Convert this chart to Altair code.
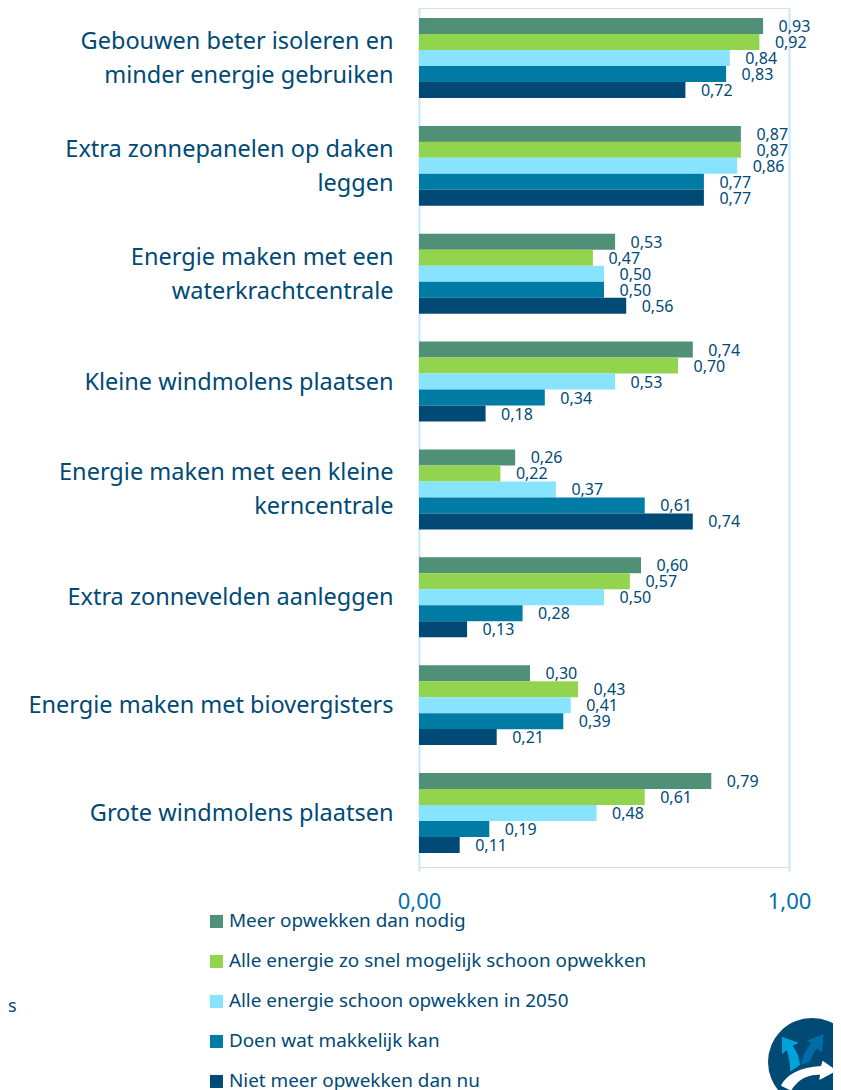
import altair as alt
import pandas as pd

categories = [
    "Gebouwen beter isoleren en|minder energie gebruiken",
    "Extra zonnepanelen op daken|leggen",
    "Energie maken met een|waterkrachtcentrale",
    "Kleine windmolens plaatsen",
    "Energie maken met een kleine|kerncentrale",
    "Extra zonnevelden aanleggen",
    "Energie maken met biovergisters",
    "Grote windmolens plaatsen",
]
series = [
    "Meer opwekken dan nodig",
    "Alle energie zo snel mogelijk schoon opwekken",
    "Alle energie schoon opwekken in 2050",
    "Doen wat makkelijk kan",
    "Niet meer opwekken dan nu",
]
colors = ["#4f9076", "#93d44f", "#88e3ff", "#007ba4", "#004a75"]
meer = [0.93, 0.87, 0.53, 0.74, 0.26, 0.60, 0.30, 0.79]
snel = [0.92, 0.87, 0.47, 0.70, 0.22, 0.57, 0.43, 0.61]
schoon = [0.84, 0.86, 0.50, 0.53, 0.37, 0.50, 0.41, 0.48]
makkelijk = [0.83, 0.77, 0.50, 0.34, 0.61, 0.28, 0.39, 0.19]
niet = [0.72, 0.77, 0.56, 0.18, 0.74, 0.13, 0.21, 0.11]
all_values = [meer, snel, schoon, makkelijk, niet]

rows = []
for s, vals in zip(series, all_values):
    for c, v in zip(categories, vals):
        rows.append({"cat": c, "serie": s, "value": v})
df = pd.DataFrame(rows)

FONT = "Noto Sans"
NAVY = "#004a75"

y = alt.Y(
    "cat:N", sort=categories, title=None,
    scale=alt.Scale(range=[-4, 859], paddingInner=0.259, paddingOuter=0.13),
    axis=alt.Axis(
        labelExpr="split(datum.label, '|')", labelLineHeight=34, labelFontSize=23.5,
        labelColor=NAVY, labelFont=FONT, labelPadding=26, labelLimit=420,
        labelOffset={"condition": {"test": "indexof(datum.label, '|') >= 0", "value": -16}, "value": 1},
        ticks=False, domain=False, grid=False,
    ),
)
x = alt.X(
    "value:Q", title=None, scale=alt.Scale(domain=[0, 1], nice=False),
    axis=alt.Axis(
        values=[0, 1], labelExpr="replace(format(datum.value, '.2f'), '.', ',')",
        labelFontSize=22, labelColor="#0070a8", labelFont=FONT, labelPadding=24,
        ticks=False, domain=False, grid=True, gridColor="#c5e8ff", gridWidth=2,
        labelFlush=False,
    ),
)
yoff = alt.YOffset("serie:N", sort=series, scale=alt.Scale(paddingInner=0, paddingOuter=0))

bars = alt.Chart(df).mark_bar(size=16).encode(
    x=x, y=y, yOffset=yoff,
    color=alt.Color(
        "serie:N", sort=series, scale=alt.Scale(domain=series, range=colors), title=None,
        legend=alt.Legend(
            orient="none", legendX=-212, legendY=904, symbolType="square", symbolSize=170,
            symbolStrokeWidth=0, labelFontSize=18.9, labelFont=FONT, labelColor=NAVY,
            rowPadding=20, labelLimit=500, labelOffset=3, direction="vertical",
        ),
    ),
)
text = alt.Chart(df).transform_calculate(
    lab="replace(format(datum.value, '.2f'), '.', ',')"
).mark_text(align="left", baseline="middle", dx=15.5, dy=1, fontSize=16, font=FONT, color=NAVY).encode(
    x=alt.X("value:Q"), y=y, yOffset=yoff, text="lab:N",
)

stray = alt.Chart(pd.DataFrame({"t": ["s"]})).mark_text(
    align="left", baseline="middle", fontSize=18, font=FONT, color=NAVY
).encode(text="t:N", x=alt.value(-411), y=alt.value(999))


def logo_path(cmds):
    parts = []
    for c in cmds:
        op, pts = c[0], c[1:]
        coords = " ".join(f"{(zx / 3 - 61) / 44:.3f},{(zy / 3 - 62) / 44:.3f}" for zx, zy in pts)
        parts.append(f"{op}{coords}")
    return " ".join(parts) + " Z"


logo_light = logo_path([("M", (93, 110)), ("L", (143, 128)), ("L", (125, 137)),
                        ("Q", (145, 165), (147, 195)), ("L", (117, 215)),
                        ("Q", (118, 180), (107, 150)), ("L", (93, 163))])
logo_mid = logo_path([("M", (218, 102)), ("L", (212, 158)), ("L", (198, 145)),
                      ("Q", (180, 170), (177, 185)), ("L", (150, 195)),
                      ("Q", (155, 160), (182, 128)), ("L", (167, 122))])
logo_white = logo_path([("M", (90, 257)), ("Q", (115, 205), (210, 198)), ("L", (215, 182)),
                        ("L", (258, 212)), ("L", (205, 240)), ("L", (207, 224)),
                        ("Q", (150, 222), (120, 272))])

logo_df = pd.DataFrame({"a": [1]})
LOGO_X, LOGO_Y = 393, 1054
logo_layers = [
    alt.Chart(logo_df).mark_point(shape="circle", size=7744, filled=True, color=NAVY, opacity=1,
                                  strokeWidth=0)
    .encode(x=alt.value(LOGO_X), y=alt.value(LOGO_Y))
] + [
    alt.Chart(logo_df).mark_point(shape=p, size=7744, filled=True, color=c, opacity=1, strokeWidth=0)
    .encode(x=alt.value(LOGO_X), y=alt.value(LOGO_Y))
    for p, c in [(logo_light, "#00a3d9"), (logo_mid, "#006ca8"), (logo_white, "#ffffff")]
]

chart = (
    alt.layer(bars, text, stray, *logo_layers)
    .resolve_scale(x="shared", y="shared")
    .properties(
        width=370, height=859,
        padding={"left": 411, "top": 0, "right": 44, "bottom": 223},
        autosize=alt.AutoSizeParams(type="none"),
    )
    .configure_view(stroke=None)
    .configure(font=FONT)
)
chart.save("out.html", embed_options={"renderer": "svg", "actions": False})
